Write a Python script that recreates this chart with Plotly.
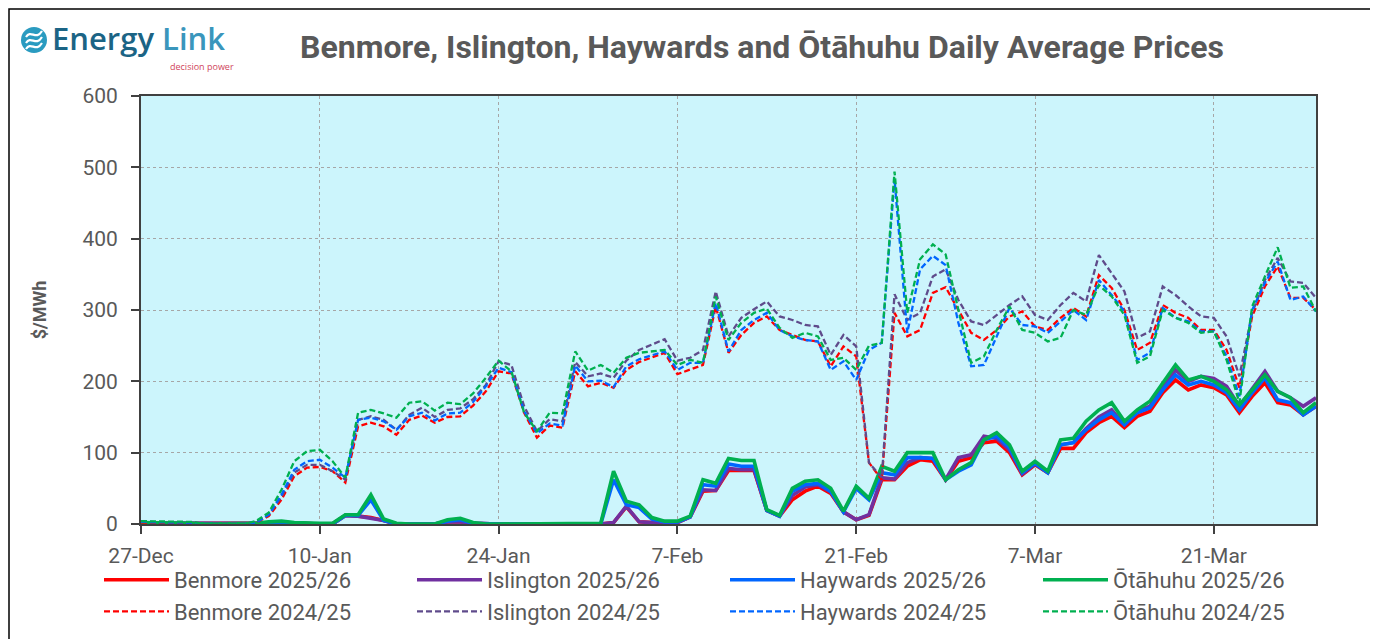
import pandas as pd
import plotly.graph_objects as go

# ---------------- data ----------------
DATES = pd.date_range("2025-12-27", "2026-03-29", freq="D")
TICK_DATES = ["2025-12-27", "2026-01-10", "2026-01-24", "2026-02-07", "2026-02-21", "2026-03-07", "2026-03-21"]
TICK_LABELS = ["27-Dec", "10-Jan", "24-Jan", "7-Feb", "21-Feb", "7-Mar", "21-Mar"]

benmore_2526 = [1,1,1,1,1,0,0,0,0,0,
                1,2,1,0,0,0,12,11,9,5,
                0,0,0,0,3,3,1,0,0,0,
                0,0,0,0,0,0,0,2,24,3,
                2,1,2,10,46,47,75,75,75,19,
                11,34,46,53,43,17,6,12,62,62,
                81,90,88,62,88,93,114,116,100,69,
                83,72,106,106,128,142,151,135,151,158,
                184,202,188,195,191,181,156,179,198,170,
                167,153,165]
islington_2526 = [1,1,1,1,1,0,0,0,0,0,
                  1,2,1,0,0,0,12,11,8,5,
                  0,0,0,0,3,3,1,0,0,0,
                  0,0,0,0,0,0,0,2,25,3,
                  2,1,2,10,48,47,78,76,76,19,
                  11,40,52,55,45,17,6,13,65,63,
                  86,93,92,62,93,97,123,120,104,70,
                  84,72,111,114,134,150,160,139,158,165,
                  191,216,200,207,204,193,165,190,214,186,
                  177,165,177]
haywards_2526 = [1,1,1,1,1,0,0,0,0,0,
                 2,3,1,0,0,0,12,12,34,5,
                 0,0,0,0,4,6,1,0,0,0,
                 0,0,0,0,0,0,0,62,27,23,
                 7,3,3,10,55,53,84,81,81,19,
                 11,46,55,57,46,17,50,34,72,69,
                 93,93,92,62,74,83,118,123,107,72,
                 85,72,111,114,132,146,156,139,156,163,
                 188,209,195,200,195,184,160,184,205,174,
                 170,153,165]
otahuhu_2526 = [2,2,2,2,1,0,0,0,0,1,
                3,4,2,1,1,1,13,13,41,7,
                1,0,0,0,6,8,2,0,0,0,
                0,1,1,1,0,0,1,74,32,27,
                9,4,4,11,62,57,92,89,89,20,
                12,50,60,62,50,18,53,36,81,74,
                100,100,100,62,76,86,118,128,111,74,
                88,74,118,120,144,160,170,144,160,172,
                198,223,202,207,200,188,167,188,209,186,
                177,156,170]

benmore_2425 = [2,2,2,2,2,0,0,0,0,2,
                11,34,67,79,80,74,58,137,142,137,
                125,146,152,142,150,151,166,186,214,211,
                156,121,138,135,214,193,198,191,216,227,
                234,240,210,216,223,305,240,265,282,291,
                272,265,258,256,221,249,235,86,62,296,
                263,272,324,332,300,268,258,272,291,298,
                277,272,289,303,291,349,331,300,244,254,
                307,296,289,272,272,244,191,291,333,361,
                317,317,300]
islington_2425 = [3,3,3,3,2,0,0,0,0,2,
                  13,38,72,83,83,74,62,146,151,146,
                  132,153,163,150,160,162,175,195,228,223,
                  165,130,147,144,227,207,211,205,229,244,
                  251,259,229,233,244,326,263,289,301,312,
                  291,286,279,277,237,265,249,86,65,322,
                  286,296,347,357,314,284,279,293,307,319,
                  293,286,307,324,312,377,352,326,261,270,
                  333,321,305,291,289,263,207,296,342,373,
                  340,338,317]
haywards_2425 = [3,3,3,3,2,0,0,0,0,2,
                 13,41,76,88,90,79,65,146,149,144,
                 132,151,156,145,155,156,171,193,219,213,
                 158,127,141,138,222,200,201,192,221,231,
                 237,242,216,226,226,310,242,272,286,296,
                 272,263,258,256,216,228,202,244,254,483,
                 268,357,376,363,282,221,223,263,303,279,
                 277,268,284,300,286,342,321,298,230,240,
                 303,289,284,270,270,235,179,300,338,368,
                 314,319,298]
otahuhu_2425 = [4,4,4,4,3,0,0,0,0,4,
                16,48,88,102,104,88,65,156,160,155,
                149,170,172,159,170,168,183,205,229,214,
                156,130,156,155,242,215,223,212,233,240,
                242,244,223,230,226,319,258,282,296,302,
                275,261,268,263,230,233,216,250,254,494,
                296,371,392,378,300,226,235,272,305,272,
                268,256,261,300,293,335,319,293,226,235,
                300,289,282,268,270,230,170,305,347,388,
                331,333,298]

# ---------------- layout helpers ----------------
# The page body adds an 8px offset, so figure coordinates = screen - 8
W, H = 1378, 639
L, T = 133, 88
PLOT_R, PLOT_B = 1308, 516
R, B = W - PLOT_R, H - PLOT_B
PW, PH = PLOT_R - L, PLOT_B - T


def px(x):
    return (x - L) / PW


def py(y):
    return (PLOT_B - y) / PH


FONT = "Roboto, 'Open Sans', Arial, sans-serif"
GREY = "#595959"

series = [
    ("Benmore 2025/26", benmore_2526, "#FF0000", "solid", 3.6),
    ("Islington 2025/26", islington_2526, "#7030A0", "solid", 3.6),
    ("Haywards 2025/26", haywards_2526, "#0066FF", "solid", 3.6),
    ("Ōtāhuhu 2025/26", otahuhu_2526, "#00B050", "solid", 3.6),
    ("Benmore 2024/25", benmore_2425, "#FF0000", "6px,3px", 2.3),
    ("Islington 2024/25", islington_2425, "#5F4B8B", "6px,3px", 2.3),
    ("Haywards 2024/25", haywards_2425, "#0066FF", "6px,3px", 2.3),
    ("Ōtāhuhu 2024/25", otahuhu_2425, "#00B050", "6px,3px", 2.3),
]

fig = go.Figure()
for name, vals, col, dash, wid in series:
    fig.add_trace(go.Scatter(x=DATES, y=vals, name=name, mode="lines",
                             line=dict(color=col, width=wid, dash=dash)))

axis_common = dict(
    showgrid=True, gridcolor="#A6A6A6", griddash="dot", gridwidth=1.3,
    showline=True, linecolor="#404040", linewidth=2, mirror=True,
    ticks="outside", ticklen=8, tickwidth=1.5, tickcolor="#404040",
    tickfont=dict(family=FONT, size=21, color=GREY), zeroline=False,
)

fig.update_layout(
    width=W, height=H, autosize=False,
    margin=dict(l=L, r=R, t=T, b=B, pad=0, autoexpand=False),
    paper_bgcolor="white", plot_bgcolor="#CCF5FC",
    title=dict(text="<b>Benmore, Islington, Haywards and Ōtāhuhu Daily Average Prices</b>",
               font=dict(family=FONT, size=32, color=GREY),
               xref="container", x=754 / W, xanchor="center",
               yref="container", y=1 - 39 / H, yanchor="middle"),
    xaxis=dict(type="date", range=[DATES[0], DATES[-1]],
               tickvals=TICK_DATES, ticktext=TICK_LABELS, ticklabelstandoff=4, **axis_common),
    yaxis=dict(range=[0, 600], dtick=100, ticklabelstandoff=9,
               title=dict(text="<b>$/MWh</b>", font=dict(family=FONT, size=18, color=GREY), standoff=31),
               **axis_common),
    legend=dict(orientation="h", xref="paper", x=px(91), xanchor="left",
                yref="paper", y=py(551), yanchor="top",
                font=dict(family=FONT, size=22, color=GREY),
                entrywidth=233, entrywidthmode="pixels", itemwidth=65,
                bgcolor="rgba(0,0,0,0)", traceorder="normal"),
    showlegend=True,
)

# outer chart border
fig.add_shape(type="rect", xref="paper", yref="paper",
              x0=px(1), x1=px(1365), y0=py(700), y1=py(1),
              line=dict(color="#000000", width=1.5), fillcolor="rgba(0,0,0,0)", layer="above")

# logo icon
fig.add_shape(type="circle", xref="paper", yref="paper",
              x0=px(13), x1=px(39), y0=py(45), y1=py(19),
              line=dict(color="#2A9BC0", width=0), fillcolor="#2A9BC0")
for dy in (-6, 0, 6):
    fig.add_shape(type="path", xref="paper", yref="paper",
                  path=(f"M {px(18)},{py(35 + dy)} C {px(23)},{py(27 + dy)} {px(28)},{py(39 + dy)} {px(34)},{py(29 + dy)}"),
                  line=dict(color="white", width=2.2))

fig.add_annotation(xref="paper", yref="paper", x=px(42), y=py(30), xanchor="left", yanchor="middle",
                   text="<span style='color:#1B6485'>Energy</span> <span style='color:#3A96BC'>Link</span>",
                   showarrow=False, font=dict(family="'Open Sans', Roboto, sans-serif", size=31, weight=600))
fig.add_annotation(xref="paper", yref="paper", x=px(228), y=py(58), xanchor="right", yanchor="middle",
                   text="decision power", showarrow=False,
                   font=dict(family="'Open Sans', Roboto, sans-serif", size=9, color="#D0455B"))

fig.write_html("out.html")
